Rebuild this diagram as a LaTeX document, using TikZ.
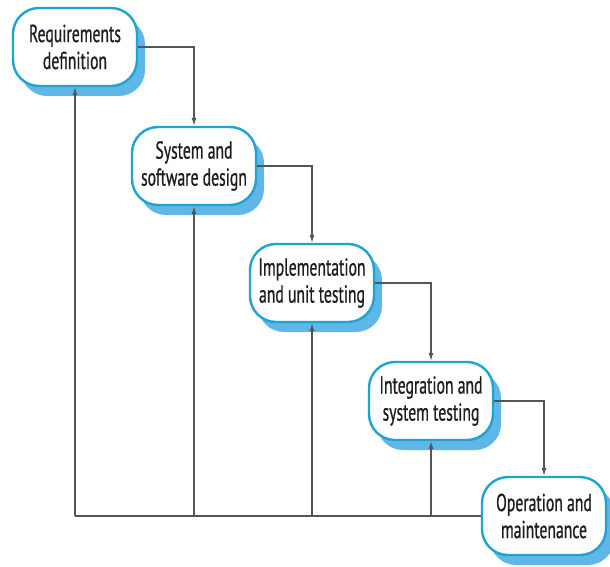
\documentclass[tikz,border=0pt]{standalone}
\usepackage{fontspec}
\setmainfont{PT Sans}[FakeStretch=0.64,FakeBold=0.7]
\usetikzlibrary{arrows.meta,shadows}
\definecolor{boxblue}{HTML}{1EA3D2}
\definecolor{shadowblue}{HTML}{5EB7E6}
\definecolor{linegray}{HTML}{555555}
\definecolor{txt}{HTML}{1E1E1E}
\tikzset{
  phase/.style={draw=boxblue, line width=2.4pt, fill=white, rounded corners=26pt,
    minimum width=124pt, minimum height=78pt, inner sep=0pt, align=center,
    text=txt, font=\fontsize{24.5}{27}\selectfont,
    drop shadow={shadow xshift=8pt, shadow yshift=-10pt, fill=shadowblue, opacity=1}},
  flow/.style={draw=linegray, line width=1.1pt, -{Latex[length=8pt,width=5pt]}},
  back/.style={draw=linegray, line width=1.1pt}
}
\begin{document}
\begin{tikzpicture}[x=1pt,y=-1pt]
\useasboundingbox (0,0) rectangle (610,567);
\node[phase] (b1) at (75,47) {Requirements\\definition};
\node[phase] (b2) at (194,166) {System and\\software design};
\node[phase] (b3) at (312,283) {Implementation\\and unit testing};
\node[phase] (b4) at (431,401) {Integration and\\system testing};
\node[phase] (b5) at (544,516) {Operation and\\maintenance};
\draw[flow] (b1.east) -| (b2.north);
\draw[flow] (b2.east) -| (b3.north);
\draw[flow] (b3.east) -| (b4.north);
\draw[flow] (b4.east) -| (b5.north);
\coordinate (c1) at (b1.south |- b5.west);
\coordinate (c2) at (b2.south |- b5.west);
\coordinate (c3) at (b3.south |- b5.west);
\coordinate (c4) at (b4.south |- b5.west);
\draw[back] (b5.west) -- (c1);
\draw[flow] (c1) -- (b1.south);
\draw[flow] (c2) -- (b2.south);
\draw[flow] (c3) -- (b3.south);
\draw[flow] (c4) -- (b4.south);
\end{tikzpicture}
\end{document}
